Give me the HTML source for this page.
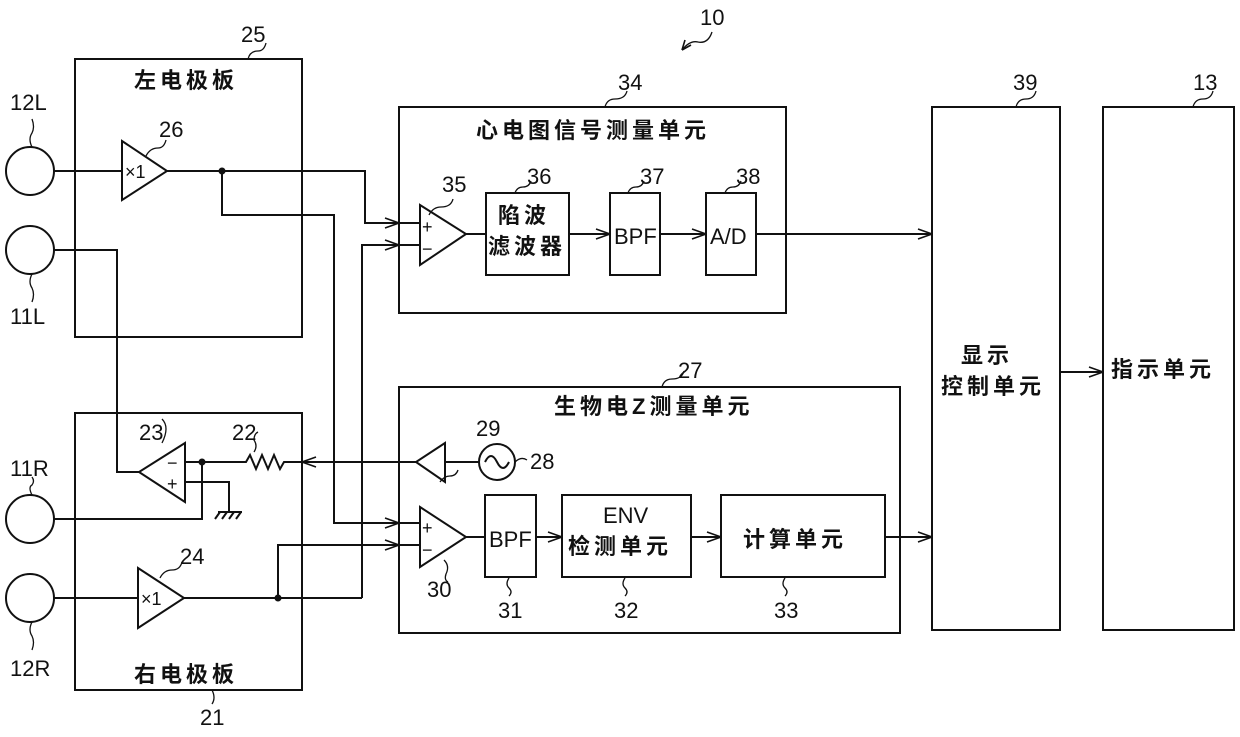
<!DOCTYPE html>
<html><head><meta charset="utf-8"><style>
html,body{margin:0;padding:0;background:#fff;width:1240px;height:737px;overflow:hidden}
svg{display:block}
text{font-family:"Liberation Sans","Noto Sans CJK SC",sans-serif;fill:#111}
.cj{font-family:"Noto Serif CJK SC","Noto Sans CJK SC",serif;font-weight:bold;letter-spacing:4px}
</style></head><body>
<svg width="1240" height="737" viewBox="0 0 1240 737" xmlns="http://www.w3.org/2000/svg">
<defs><marker id="a" markerWidth="16" markerHeight="12" refX="15" refY="6" orient="auto" markerUnits="userSpaceOnUse"><polyline points="1,1 15,6 1,11" fill="none" stroke="#111" stroke-width="1.6"/></marker></defs>
<g fill="none" stroke="#111" stroke-width="2">
<rect x="75" y="59" width="227" height="278"/>
<rect x="75" y="413" width="227" height="277"/>
<rect x="399" y="107" width="387" height="206"/>
<rect x="399" y="387" width="501" height="246"/>
<rect x="932" y="107" width="128" height="523"/>
<rect x="1103" y="107" width="131" height="523"/>
<rect x="486" y="193" width="83" height="82"/>
<rect x="610" y="193" width="50" height="82"/>
<rect x="706" y="193" width="50" height="82"/>
<rect x="485" y="495" width="51" height="82"/>
<rect x="562" y="495" width="129" height="82"/>
<rect x="721" y="495" width="164" height="82"/>
<circle cx="30" cy="171" r="24"/>
<circle cx="30" cy="250" r="24"/>
<circle cx="30" cy="519" r="24"/>
<circle cx="30" cy="598" r="24"/>
<circle cx="497" cy="462" r="18"/>
<path d="M485,462 Q491,450 497,462 Q503,474 509,462"/>
<polygon points="122,141 167,171 122,200"/>
<polygon points="420,205 466,234 420,265"/>
<polygon points="185,443 139,472 185,502"/>
<polygon points="138,568 184,598 138,628"/>
<polygon points="445,443 416,462 445,482"/>
<polygon points="420,507 466,537 420,567"/>
<path d="M54,171 H122"/>
<path d="M167,171 H365 V223 H399" marker-end="url(#a)"/>
<path d="M222,171 V215 H334 V523 H399" marker-end="url(#a)"/>
<path d="M54,250 H117 V472 H139"/>
<path d="M362,598 V245 H399" marker-end="url(#a)"/>
<path d="M54,598 H138"/>
<path d="M184,598 H362"/>
<path d="M278,598 V545 H399" marker-end="url(#a)"/>
<path d="M399,223 H420 M399,245 H420 M399,523 H420 M399,545 H420"/>
<path d="M185,462 H246 L250,455 L256,469 L262,455 L268,469 L274,455 L280,469 L284,462 H416" />
<path d="M416,462 H302" marker-end="url(#a)"/>
<path d="M479,462 H445"/>
<path d="M185,482 H229 V512"/>
<path d="M218,512 H242 M220,512 L215,519 M227,512 L222,519 M234,512 L229,519 M241,512 L236,519"/>
<path d="M202,462 V519 H54"/>
<path d="M466,234 H486"/>
<path d="M569,234 H610" marker-end="url(#a)"/>
<path d="M660,234 H706" marker-end="url(#a)"/>
<path d="M756,234 H932" marker-end="url(#a)"/>
<path d="M466,537 H485"/>
<path d="M536,537 H562" marker-end="url(#a)"/>
<path d="M691,537 H721" marker-end="url(#a)"/>
<path d="M885,537 H932" marker-end="url(#a)"/>
<path d="M1060,372 H1103" marker-end="url(#a)"/>
<g stroke-width="1.3">
<path d="M32,147 q-4,-8 0,-14 q3,-6 0,-14"/>
<path d="M32,274 q-4,8 0,14 q3,6 0,14"/>
<path d="M32,495 q-4,-8 0,-10 q3,-4 0,-8"/>
<path d="M32,622 q-4,8 0,14 q3,6 0,14"/>
<path d="M146,156 q4,-8 12,-8 q6,0 8,-8"/>
<path d="M429,215 q4,-8 12,-8 q10,0 12,-8"/>
<path d="M515,193 q2,-6 8,-6 q6,0 8,-6"/>
<path d="M628,193 q2,-6 8,-6 q6,0 8,-6"/>
<path d="M725,193 q2,-6 8,-6 q6,0 8,-6"/>
<path d="M605,107 q2,-8 10,-8 q10,0 12,-8"/>
<path d="M248,59 q2,-8 10,-8 q6,0 8,-8"/>
<path d="M212,690 q4,8 0,14"/>
<path d="M162,443 q4,-8 4,-14 q0,-6 -4,-10"/>
<path d="M254,452 q4,-6 0,-12 q0,-6 4,-8"/>
<path d="M160,578 q4,-8 12,-8 q8,0 10,-8"/>
<path d="M440,482 q4,-6 10,-6 q6,0 8,-6"/>
<path d="M444,560 q6,6 2,14 q-2,6 2,8"/>
<path d="M515,462 q6,-6 12,-2"/>
<path d="M509,578 q-4,6 0,10 q4,4 0,8"/>
<path d="M625,578 q-4,6 0,10 q4,4 0,8"/>
<path d="M785,578 q-4,6 0,10 q4,4 0,8"/>
<path d="M662,387 q2,-8 10,-8 q10,0 12,-8"/>
<path d="M1016,107 q2,-8 10,-8 q8,0 10,-8"/>
<path d="M1193,107 q2,-8 10,-8 q8,0 10,-8"/>
<path d="M682,50 q8,-10 16,-8 q10,2 14,-10"/>
</g>
</g>
<path d="M682,50 l3,-10 M682,50 l9,-5" stroke="#111" stroke-width="1.6" fill="none"/>
<g fill="#111"><circle cx="222" cy="171" r="3.5"/><circle cx="202" cy="462" r="3.5"/><circle cx="278" cy="598" r="3.5"/></g>
<g font-size="22">
<text x="10" y="110">12L</text><text x="10" y="324">11L</text>
<text x="10" y="476">11R</text><text x="10" y="676">12R</text>
<text x="241" y="42">25</text><text x="159" y="137">26</text>
<text x="442" y="192">35</text><text x="527" y="184">36</text><text x="640" y="184">37</text><text x="736" y="184">38</text>
<text x="618" y="90">34</text><text x="700" y="25">10</text>
<text x="1013" y="90">39</text><text x="1193" y="90">13</text>
<text x="678" y="378">27</text><text x="476" y="436">29</text><text x="530" y="469">28</text>
<text x="139" y="440">23</text><text x="232" y="440">22</text><text x="180" y="564">24</text>
<text x="427" y="597">30</text><text x="498" y="618">31</text><text x="614" y="618">32</text><text x="774" y="618">33</text>
<text x="200" y="725">21</text>
<text x="614" y="244">BPF</text><text x="710" y="244">A/D</text><text x="489" y="547">BPF</text>
<text x="603" y="523">ENV</text>
</g>
<g font-size="18"><text x="125" y="178">×1</text><text x="141" y="605">×1</text></g>
<g font-size="18"><text x="422" y="233">+</text><text x="422" y="255">−</text><text x="422" y="534">+</text><text x="422" y="556">−</text>
<text x="167" y="469">−</text><text x="167" y="490">+</text></g>
<g class="cj" font-size="22">
<text x="134" y="88">左电极板</text>
<text x="134" y="682">右电极板</text>
<text x="476" y="138">心电图信号测量单元</text>
<text x="554" y="414">生物电Z测量单元</text>
<text x="498" y="223">陷波</text><text x="488" y="254">滤波器</text>
<text x="568" y="554">检测单元</text>
<text x="743" y="547">计算单元</text>
<text x="961" y="363">显示</text><text x="941" y="394">控制单元</text>
<text x="1111" y="377">指示单元</text>
</g>
</svg>
</body></html>
